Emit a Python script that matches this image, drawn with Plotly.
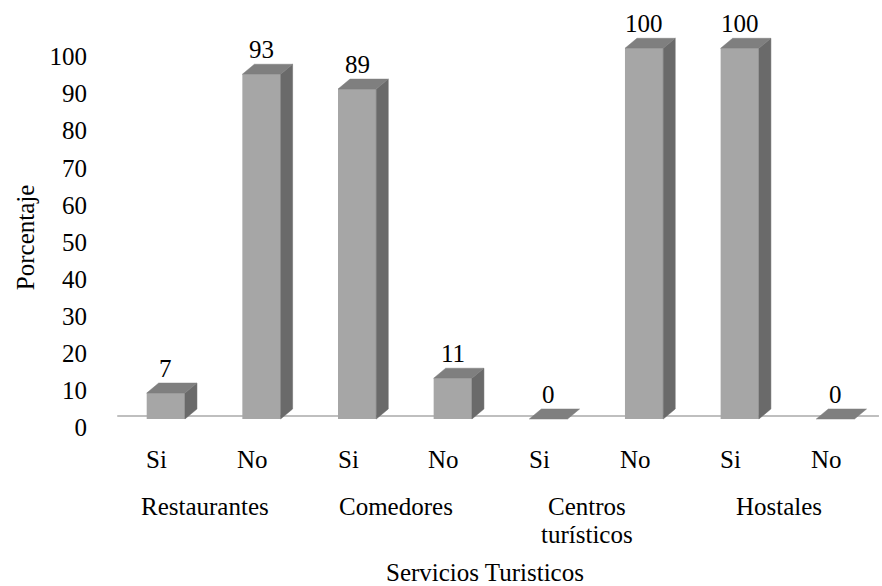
import plotly.graph_objects as go

# ---- data ----
groups = ["Restaurantes", "Comedores", "Centros<br>turísticos", "Hostales"]
answers = ["Si", "No", "Si", "No", "Si", "No", "Si", "No"]
values = [7, 93, 89, 11, 0, 100, 100, 0]
y_ticks = list(range(0, 101, 10))
x_title = "Servicios Turisticos"
y_title = "Porcentaje"

# ---- style ----
FONT = "Liberation Serif, Times New Roman, serif"
FS = 25
FRONT = "#a6a6a6"
TOP = "#7f7f7f"
SIDE = "#6a6a6a"
W = 0.40      # bar width in category units
DX = 0.1255   # depth offset (x, category units)
DY = 2.7      # depth offset (y, value units)

xs = list(range(len(values)))

fig = go.Figure()

# front faces
fig.add_trace(go.Bar(x=xs, y=values, width=W, marker=dict(color=FRONT, line=dict(width=0)),
                     hoverinfo="skip", showlegend=False))

# side faces and top faces from data
side_x, side_y, top_x, top_y = [], [], [], []
for x, v in zip(xs, values):
    r = x + W / 2
    l = x - W / 2
    if v > 0:
        side_x += [r, r + DX, r + DX, r, r, None]
        side_y += [0, DY, v + DY, v, 0, None]
    top_x += [l, r, r + DX, l + DX, l, None]
    top_y += [v, v, v + DY, v + DY, v, None]

fig.add_trace(go.Scatter(x=side_x, y=side_y, fill="toself", fillcolor=SIDE, mode="lines",
                         line=dict(color=SIDE, width=0.5), hoverinfo="skip", showlegend=False))
fig.add_trace(go.Scatter(x=top_x, y=top_y, fill="toself", fillcolor=TOP, mode="lines",
                         line=dict(color=TOP, width=0.5), hoverinfo="skip", showlegend=False))

# invisible trace to activate the tick axis
fig.add_trace(go.Scatter(x=[xs[0]], y=[y_ticks[0]], yaxis="y2", mode="markers",
                         marker=dict(opacity=0), hoverinfo="skip", showlegend=False))

tfont = dict(family=FONT, size=FS, color="black")
annotations = []
# value labels
for x, v in zip(xs, values):
    annotations.append(dict(x=x, y=v, xref="x", yref="y", text=str(v), showarrow=False,
                            yanchor="middle", yshift=25, font=tfont))
# Si / No labels
for x, a in zip(xs, answers):
    annotations.append(dict(x=x, y=-0.0432, xref="x", yref="paper", text=a, showarrow=False,
                            yanchor="middle", xshift=-9, font=tfont))
# group labels (one annotation per line, 28 px line spacing)
for g, name in enumerate(groups):
    for k, line in enumerate(name.split("<br>")):
        annotations.append(dict(x=2 * g + 0.5, y=-0.152, xref="x", yref="paper", text=line,
                                showarrow=False, yanchor="middle", xshift=-9, yshift=-28 * k,
                                font=tfont))
# axis titles
annotations.append(dict(x=0.48, y=-0.302, xref="paper", yref="paper", text=x_title, showarrow=False,
                        yanchor="middle", font=tfont))
annotations.append(dict(x=-0.1217, y=0.461, xref="paper", yref="paper", text=y_title, showarrow=False,
                        textangle=-90, xanchor="center", yanchor="middle", font=tfont))

fig.update_layout(
    width=882, height=586,
    margin=dict(l=118, r=0, t=0, b=146),
    paper_bgcolor="white", plot_bgcolor="white",
    xaxis=dict(range=[-0.5, 7.487], showgrid=False, zeroline=False, showline=False,
               showticklabels=False, ticks="", fixedrange=True),
    yaxis=dict(range=[-5.665, 113.03], showgrid=False, zeroline=False, showline=False,
               showticklabels=False, ticks="", fixedrange=True),
    yaxis2=dict(range=[-3.37, 115.23], overlaying="y", side="left", showgrid=False, zeroline=False,
                showline=False, ticks="", tickvals=y_ticks, ticklabelstandoff=30,
                tickfont=tfont, fixedrange=True),
    shapes=[dict(type="line", xref="paper", yref="y", x0=-0.001, x1=0.996, y0=0.81, y1=0.81,
                 line=dict(color="#bfbfbf", width=2), layer="below")],
    annotations=annotations,
    showlegend=False,
)

fig.write_html("out.html", config={"displayModeBar": False},
               post_script="document.body.style.margin='0';document.body.style.overflow='hidden';")
